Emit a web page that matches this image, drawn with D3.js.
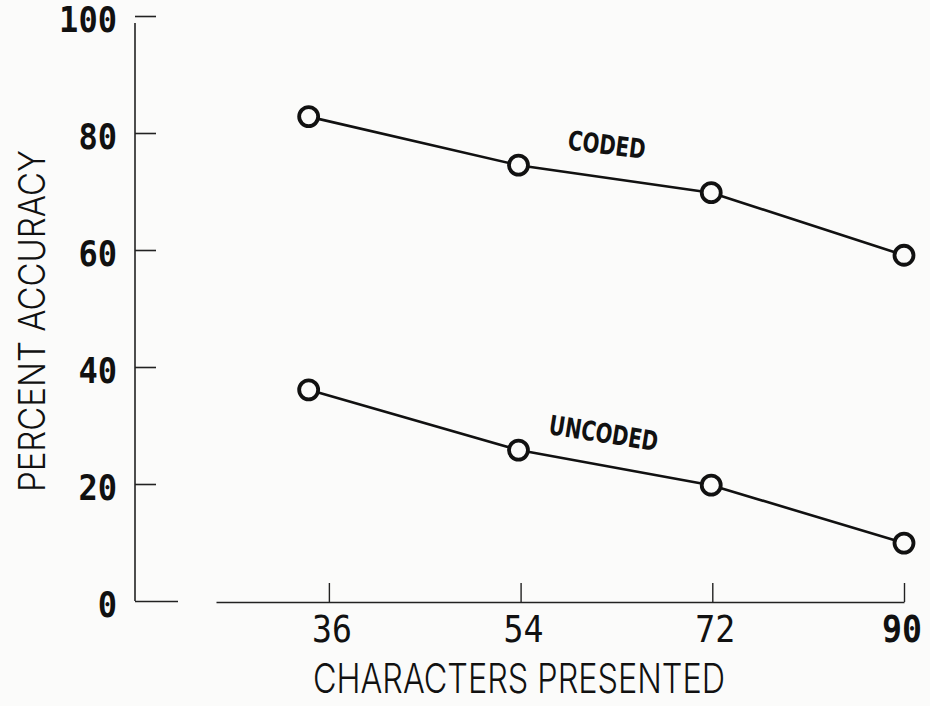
<!DOCTYPE html>
<html>
<head>
<meta charset="utf-8">
<script src="https://cdn.jsdelivr.net/npm/d3@7"></script>
<style>
  html, body { margin: 0; padding: 0; background: #fbfbfa; }
  svg { display: block; }
  .num { font-family: "DejaVu Sans Mono", monospace; fill: #111; }
  .title { font-family: Inter, "DejaVu Sans", sans-serif; font-weight: 300; fill: #111; }
  .serieslabel { font-family: "DejaVu Sans", sans-serif; font-weight: bold; fill: #111; }
</style>
</head>
<body>
<svg id="chart" width="930" height="706"></svg>
<script>
// Recall accuracy by number of characters presented
const xTickValues = [36, 54, 72, 90];
const yTickValues = [0, 20, 40, 60, 80, 100];
const pointX = [34.1, 53.8, 71.9, 90];
const coded = [82.8, 74.5, 69.8, 59.1];
const uncoded = [36.1, 25.8, 19.8, 9.9];
const seriesNames = ["CODED", "UNCODED"];
const xTitle = "CHARACTERS PRESENTED";
const yTitle = "PERCENT ACCURACY";

const svg = d3.select("#chart");
const ink = "#111";

const x = d3.scaleLinear().domain([25.4, 90]).range([216, 904]);
const y = d3.scaleLinear().domain([0, 100]).range([601, 16]);
const yAxisX = 135;

// y axis: vertical rule with inward ticks, labels set to the left
svg.append("line")
  .attr("x1", yAxisX).attr("x2", yAxisX)
  .attr("y1", y(98.8)).attr("y2", y(0))
  .attr("stroke", "#222").attr("stroke-width", 1.6);

const yAxis = svg.append("g")
  .attr("transform", `translate(${yAxisX},0)`)
  .call(d3.axisRight(y).tickValues(yTickValues).tickSize(21).tickFormat(""));
yAxis.select(".domain").remove();
yAxis.selectAll(".tick line")
  .attr("stroke", "#222").attr("stroke-width", 1.6)
  .attr("x2", d => d === 0 ? 43 : 21);

svg.append("g").selectAll("text")
  .data(yTickValues)
  .join("text")
  .attr("class", "num")
  .attr("x", 117)
  .attr("y", d => y(d) + 4)
  .attr("text-anchor", "end")
  .attr("dominant-baseline", "central")
  .attr("font-size", 35)
  .attr("font-weight", "bold")
  .attr("textLength", d => String(d).length * 19.3)
  .attr("lengthAdjust", "spacingAndGlyphs")
  .text(d => d);

// x axis: horizontal rule with upward ticks
const xAxis = svg.append("g")
  .attr("transform", "translate(0,602)")
  .call(d3.axisTop(x).tickValues(xTickValues).tickSize(19).tickSizeOuter(0).tickFormat(""));
xAxis.select(".domain").attr("stroke", "#222").attr("stroke-width", 1.6);
xAxis.selectAll(".tick line").attr("stroke", "#222").attr("stroke-width", 1.4);

svg.append("g").selectAll("text")
  .data(xTickValues)
  .join("text")
  .attr("class", "num")
  .attr("x", d => d === 90 ? x(d) - 2 : x(d) + 3)
  .attr("y", 629)
  .attr("text-anchor", "middle")
  .attr("dominant-baseline", "central")
  .attr("font-size", 37)
  .attr("font-weight", d => d === 90 ? "bold" : "normal")
  .attr("textLength", d => String(d).length * 20)
  .attr("lengthAdjust", "spacingAndGlyphs")
  .text(d => d);

// axis titles
svg.append("text")
  .attr("class", "title")
  .attr("x", 519).attr("y", 678)
  .attr("text-anchor", "middle")
  .attr("dominant-baseline", "central")
  .attr("font-size", 41)
  .attr("textLength", 412)
  .attr("lengthAdjust", "spacingAndGlyphs")
  .text(xTitle);

svg.append("text")
  .attr("class", "title")
  .attr("transform", "translate(31.5,321) rotate(-90)")
  .attr("text-anchor", "middle")
  .attr("dominant-baseline", "central")
  .attr("font-size", 37)
  .attr("textLength", 342)
  .attr("lengthAdjust", "spacingAndGlyphs")
  .text(yTitle);

// series lines and circle markers
const line = d3.line().x(d => x(d[0])).y(d => y(d[1]));
const series = [coded, uncoded].map(vals => vals.map((v, i) => [pointX[i], v]));

series.forEach(pts => {
  svg.append("path")
    .datum(pts)
    .attr("d", line)
    .attr("fill", "none")
    .attr("stroke", ink)
    .attr("stroke-width", 2.6)
    .attr("stroke-linejoin", "round");
  svg.append("g").selectAll("circle")
    .data(pts)
    .join("circle")
    .attr("cx", d => x(d[0]))
    .attr("cy", d => y(d[1]))
    .attr("r", 9.5)
    .attr("fill", "#fbfbfa")
    .attr("stroke", ink)
    .attr("stroke-width", 3.8);
});

// series labels placed along each line between the 2nd and 3rd points
const labelSpec = [
  { name: seriesNames[0], xv: 62.1, yv: 78.0, angle: 7, len: 78 },
  { name: seriesNames[1], xv: 61.8, yv: 28.7, angle: 9, len: 110 }
];
labelSpec.forEach(s => {
  svg.append("text")
    .attr("class", "serieslabel")
    .attr("transform", `translate(${x(s.xv)},${y(s.yv)}) rotate(${s.angle})`)
    .attr("text-anchor", "middle")
    .attr("dominant-baseline", "central")
    .attr("font-size", 27)
    .attr("textLength", s.len)
    .attr("lengthAdjust", "spacingAndGlyphs")
    .text(s.name);
});
</script>
</body>
</html>
